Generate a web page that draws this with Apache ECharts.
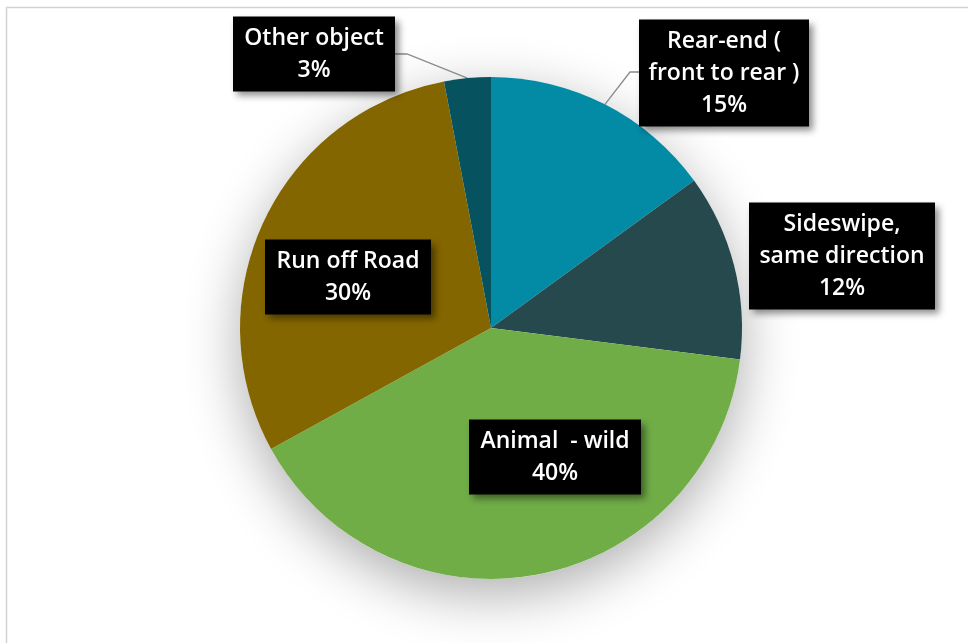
<!DOCTYPE html>
<html>
<head>
<meta charset="utf-8">
<script src="https://cdn.jsdelivr.net/npm/echarts@6/dist/echarts.min.js"></script>
<style>
html,body{margin:0;padding:0;background:#fff;}
#chart{width:968px;height:643px;}
</style>
</head>
<body>
<div id="chart"></div>
<script>
// ---- data ----
const categories = ['Rear-end ( front to rear )', 'Sideswipe, same direction', 'Animal  - wild', 'Run off Road', 'Other object'];
const labelTexts = ['Rear-end (\nfront to rear )', 'Sideswipe,\nsame direction', 'Animal  - wild', 'Run off Road', 'Other object'];
const values = [15, 12, 40, 30, 3];
const colors = ['#038BA5', '#25494D', '#70AD47', '#846600', '#06525F'];

// ---- layout (label boxes: center x, center y, width) ----
const CX = 491, CY = 328, R = 251;
const boxes = [
  {x: 724, y: 73,  w: 170, lines: true},
  {x: 842, y: 256, w: 186, lines: false},
  {x: 555, y: 457, w: 172, lines: false},
  {x: 348, y: 277, w: 166, lines: false},
  {x: 314, y: 54,  w: 162, lines: true}
];
const bends = [[630, 72], null, null, null, [407, 54]];

const chart = echarts.init(document.getElementById('chart'));
const total = values.reduce((a, b) => a + b, 0);

chart.setOption({
  animation: false,
  backgroundColor: '#fff',
  graphic: [{
    type: 'rect',
    shape: {x: 6.5, y: 7.5, width: 1200, height: 1200},
    style: {fill: 'none', stroke: '#d2d2d2', lineWidth: 1.5},
    z: -10
  }],
  series: [
    {
      type: 'pie',
      silent: true,
      center: [CX, CY],
      radius: R,
      z: 1,
      label: {show: false},
      labelLine: {show: false},
      itemStyle: {
        color: '#ffffff',
        shadowBlur: 55,
        shadowColor: 'rgba(0,0,0,0.32)',
        shadowOffsetY: 16
      },
      data: [{value: total, name: ''}]
    },
    {
      type: 'pie',
      center: [CX, CY],
      radius: R,
      startAngle: 90,
      clockwise: true,
      z: 2,
      avoidLabelOverlap: false,
      itemStyle: {borderWidth: 0},
      label: {
        show: true,
        position: 'outside',
        formatter: p => labelTexts[p.dataIndex] + '\n' + p.percent + '%',
        color: '#ffffff',
        fontFamily: 'Open Sans',
        fontWeight: 600,
        fontSize: 23,
        lineHeight: 32,
        align: 'center',
        backgroundColor: '#000000',
        padding: [7, 0, 4, 0],
        shadowColor: 'rgba(0,0,0,0.45)',
        shadowBlur: 7,
        shadowOffsetX: 4,
        shadowOffsetY: 4
      },
      labelLine: {
        show: true,
        lineStyle: {color: '#8a8a8a', width: 1.3}
      },
      labelLayout: function (params) {
        const i = params.dataIndex;
        const b = boxes[i];
        const out = {x: b.x, y: b.y, align: 'center', verticalAlign: 'middle'};
        if (b.lines && params.labelLinePoints) {
          const p0 = params.labelLinePoints[0];
          const endX = b.x < CX ? b.x + b.w / 2 : b.x - b.w / 2;
          out.labelLinePoints = [p0, bends[i], [endX, bends[i][1]]];
        }
        return out;
      },
      data: categories.map((c, i) => ({
        name: c,
        value: values[i],
        itemStyle: {color: colors[i]},
        label: {width: boxes[i].w},
        labelLine: {show: boxes[i].lines}
      }))
    }
  ]
});
</script>
</body>
</html>
